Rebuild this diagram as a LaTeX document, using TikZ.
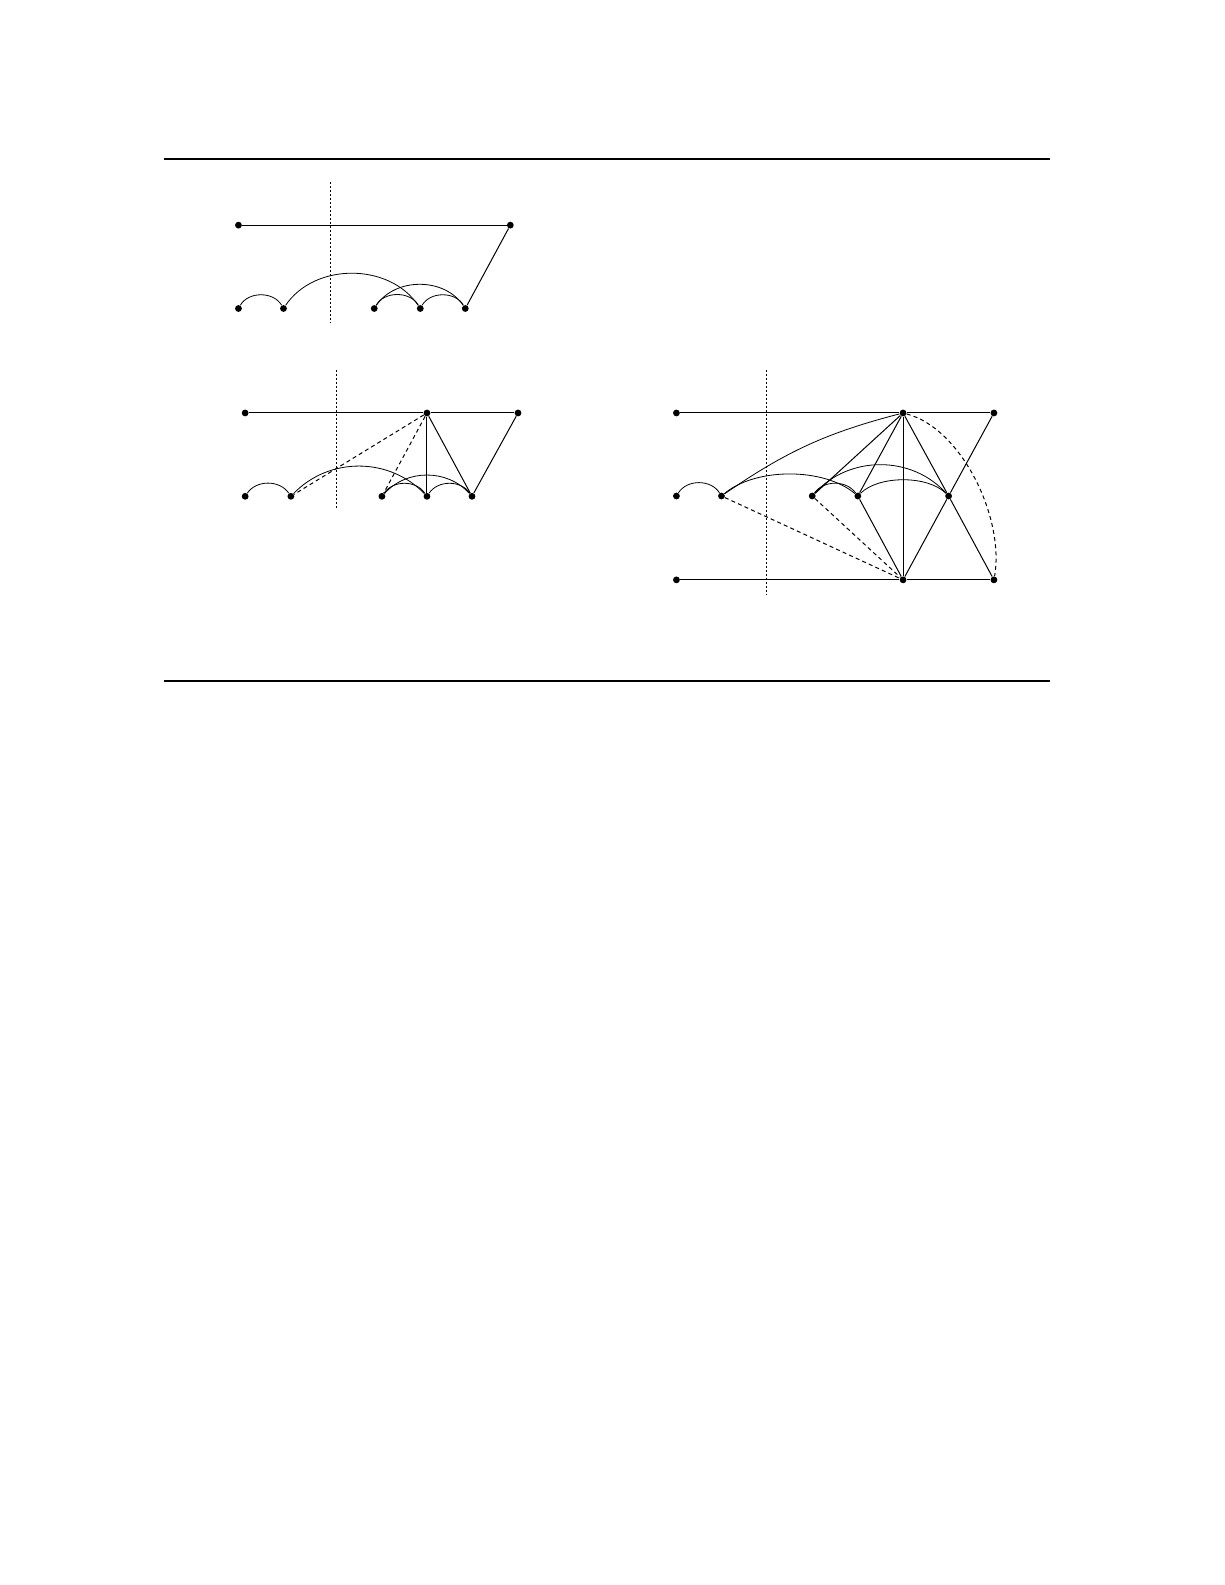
\documentclass[tikz,border=0pt]{standalone}
\usepackage{tikz}
\usetikzlibrary{arrows}

\tikzset{
	dot/.style={circle, fill=black, inner sep=0pt, minimum size=3.4pt},
	wire/.style={line width=0.5pt},
	dashwire/.style={line width=0.5pt, dash pattern=on 2pt off 1.6pt},
	cutline/.style={line width=0.5pt, dash pattern=on 1pt off 1pt},
	ruleline/.style={line width=1pt},
	hump/.style={line width=0.5pt, bend left=#1},
}

\begin{document}
\begin{tikzpicture}[x=0.5pt, y=0.5pt]
	\useasboundingbox (0, 0) rectangle (1224, -1584);
	% Rules:
	\coordinate (R1) at (163.5, -159);
	\coordinate (R2) at (1049, -159);
	\coordinate (R3) at (163.5, -681);
	\coordinate (R4) at (1049, -681);
	\draw[ruleline] (R1) -- (R2);
	\draw[ruleline] (R3) -- (R4);
	% First picture, nodes:
	\node[dot](A1) at (238.3, -225){};
	\node[dot](A2) at (510, -225){};
	\node[dot](B1) at (238.3, -308.3){};
	\node[dot](B2) at (283.3, -308.3){};
	\node[dot](B3) at (374, -308.3){};
	\node[dot](B4) at (420, -308.3){};
	\node[dot](B5) at (465, -308.3){};
	\coordinate (CA1) at (330, -182);
	\coordinate (CA2) at (330, -323);
	% First picture, paths:
	\draw[cutline] (CA1) -- (CA2);
	\draw[wire] (A1) -- (A2);
	\draw[wire] (B5) -- (A2);
	\draw (B1) to[hump=60] (B2);
	\draw (B2) to[hump=56] (B4);
	\draw (B3) to[hump=60] (B4);
	\draw (B4) to[hump=60] (B5);
	\draw (B3) to[hump=56] (B5);
	% Second picture, nodes:
	\node[dot](C1) at (245, -412.7){};
	\node[dot](C2) at (426.7, -412.7){};
	\node[dot](C3) at (517.7, -412.7){};
	\node[dot](D1) at (245, -496){};
	\node[dot](D2) at (290.7, -496){};
	\node[dot](D3) at (381.7, -496){};
	\node[dot](D4) at (426.7, -496){};
	\node[dot](D5) at (471.7, -496){};
	\coordinate (CB1) at (336, -370);
	\coordinate (CB2) at (336, -510);
	% Second picture, paths:
	\draw[cutline] (CB1) -- (CB2);
	\draw[wire] (C1) -- (C2) -- (C3);
	\draw[wire] (C2) -- (D4);
	\draw[wire] (C2) -- (D5);
	\draw[wire] (C3) -- (D5);
	\draw[dashwire] (C2) -- (D2);
	\draw[dashwire] (C2) -- (D3);
	\draw (D1) to[hump=56] (D2);
	\draw (D2) to[hump=46] (D4);
	\draw (D3) to[hump=56] (D4);
	\draw (D4) to[hump=56] (D5);
	\draw (D3) to[hump=48] (D5);
	% Third picture, nodes:
	\node[dot](E1) at (676, -412.7){};
	\node[dot](E2) at (902.5, -412.7){};
	\node[dot](E3) at (993.3, -412.7){};
	\node[dot](F1) at (676, -495.7){};
	\node[dot](F2) at (721, -495.7){};
	\node[dot](F3) at (811.7, -495.7){};
	\node[dot](F4) at (857.3, -495.7){};
	\node[dot](F5) at (948, -495.7){};
	\node[dot](G1) at (676, -579.5){};
	\node[dot](G2) at (902.5, -579.5){};
	\node[dot](G3) at (993.3, -579.5){};
	\coordinate (CC1) at (766, -370);
	\coordinate (CC2) at (766, -595);
	% Third picture, paths:
	\draw[cutline] (CC1) -- (CC2);
	\draw[wire] (E1) -- (E2) -- (E3);
	\draw[wire] (G1) -- (G2) -- (G3);
	\draw[wire] (E2) -- (G2);
	\draw[wire] (E2) -- (F3);
	\draw[wire] (E2) -- (F4);
	\draw[wire] (E2) -- (F5) -- (G3);
	\draw[wire] (E3) -- (F5) -- (G2);
	\draw[wire] (F4) -- (G2);
	\draw (F2) to[hump=10] (E2);
	\draw[dashwire] (F2) -- (G2);
	\draw[dashwire] (F3) -- (G2);
	\draw[dashwire] (E2) to[out=-15, in=80, looseness=0.8] (G3);
	\draw (F1) to[hump=58] (F2);
	\draw (F2) to[hump=40, looseness=0.8] (F4);
	\draw (F3) to[hump=54] (F4);
	\draw (F3) to[hump=48] (F5);
	\draw (F4) to[hump=45, looseness=0.77] (F5);
\end{tikzpicture}
\end{document}
